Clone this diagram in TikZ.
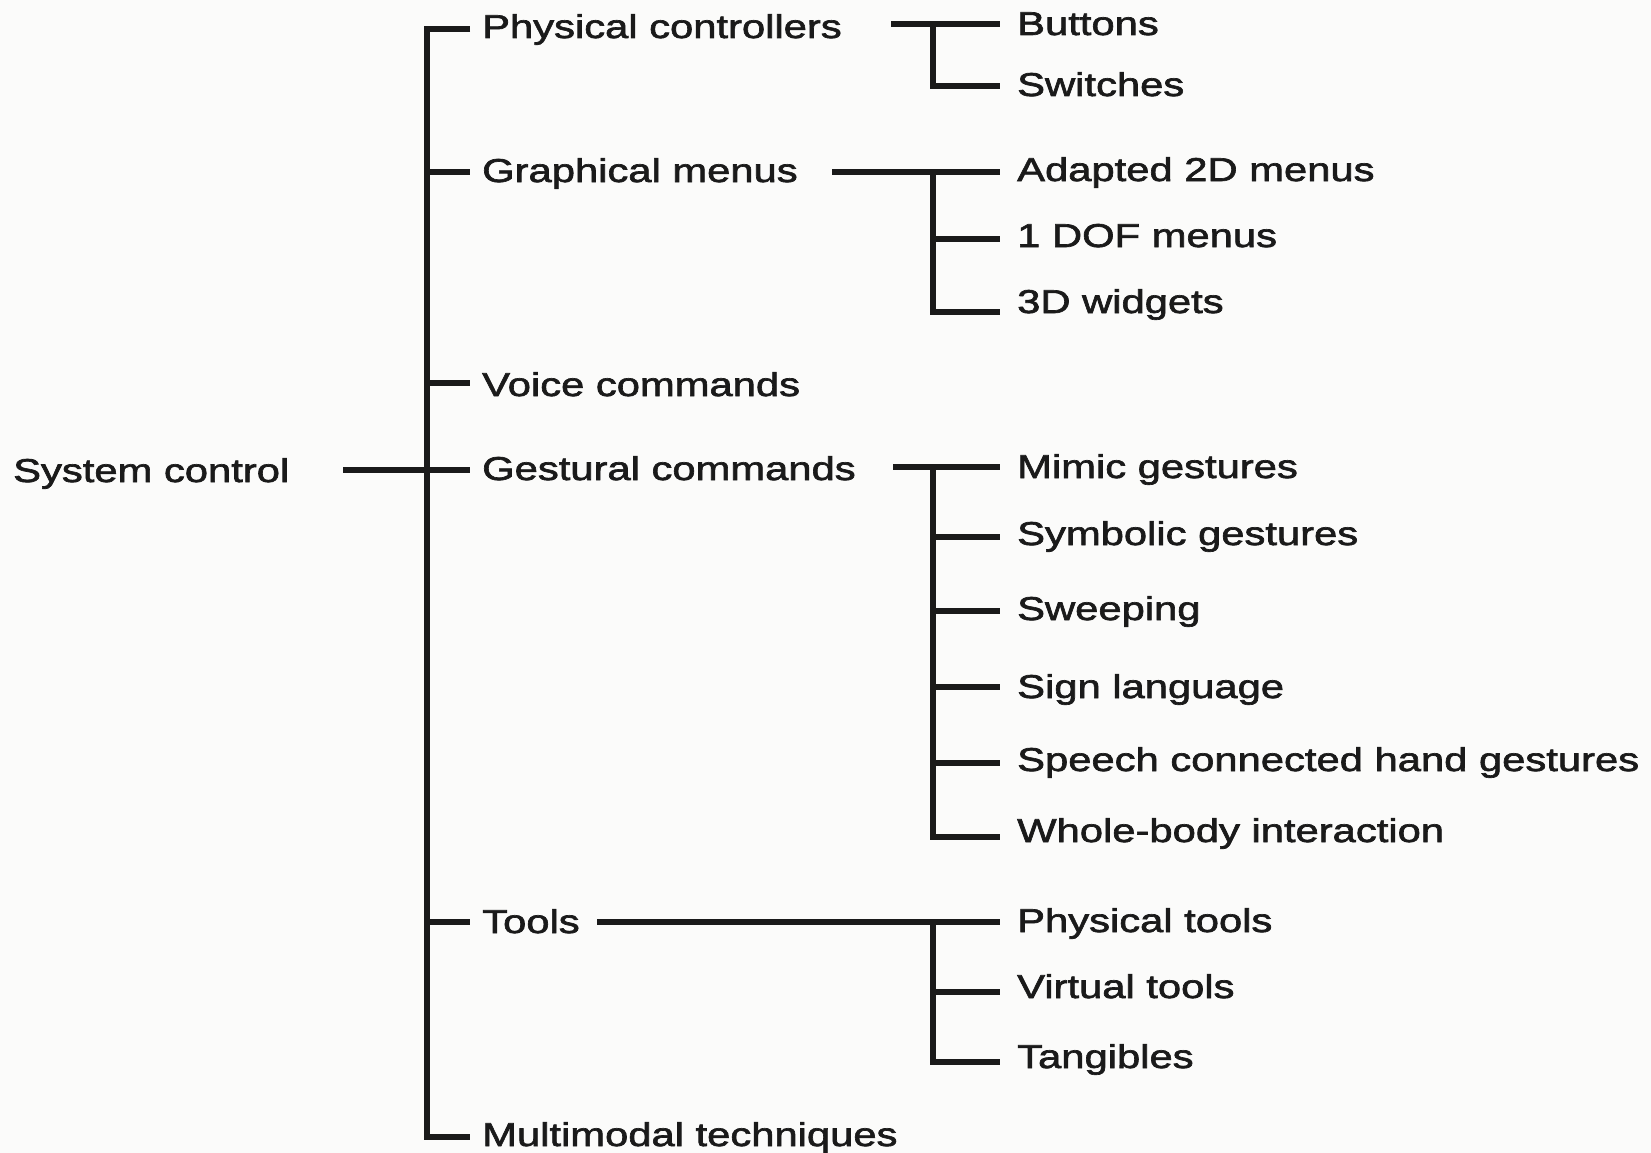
\documentclass[tikz,border=0pt]{standalone}
\usepackage{fontspec}
\setmainfont{Liberation Sans}[FakeStretch=1.265,FakeBold=2]
\definecolor{ink}{HTML}{1A1A1A}
\definecolor{paper}{HTML}{FBFBFA}
\begin{document}
\begin{tikzpicture}[x=1pt,y=1pt,
  ln/.style={line width=6pt, draw=ink, line join=miter, line cap=butt},
  lbl/.style={anchor=west, inner ysep=0pt, text height=22pt, text depth=0pt, text=ink,
    font=\fontsize{33}{39}\selectfont},
  top/.style={lbl, inner xsep=12pt},
  leaf/.style={lbl, inner xsep=17pt}]
\fill[paper] (0,0) rectangle (1651,-1153);
\useasboundingbox (0,0) rectangle (1651,-1153);

% root
\node[lbl, inner xsep=0pt] (sc) at (13,-470) {\raisebox{-1pt}{System control}};

% level 1
\node[top] (pc) at (470,-29)   {\raisebox{2pt}{Physical controllers}};
\node[top] (gm) at (470,-172)  {\raisebox{1pt}{Graphical menus}};
\node[top] (vc) at (470,-383)  {\raisebox{-2pt}{Voice commands}};
\node[top] (gc) at (470,-470)  {\raisebox{1pt}{Gestural commands}};
\node[top] (tl) at (470,-922)  {Tools};
\node[top] (mm) at (470,-1137) {\raisebox{2pt}{Multimodal techniques}};

% leaves
\node[leaf] (btn) at (1000,-24)   {Buttons};
\node[leaf] (sw)  at (1000,-86)   {\raisebox{1pt}{Switches}};
\node[leaf] (a2d) at (1000,-172)  {\raisebox{2pt}{Adapted 2D menus}};
\node[leaf] (dof) at (1000,-239)  {\raisebox{3pt}{1 DOF menus}};
\node[leaf] (w3d) at (1000,-312)  {\raisebox{10pt}{3D widgets}};
\node[leaf] (mim) at (1000,-467)  {Mimic gestures};
\node[leaf] (sym) at (1000,-537)  {\raisebox{3pt}{Symbolic gestures}};
\node[leaf] (swp) at (1000,-611)  {\raisebox{2pt}{Sweeping}};
\node[leaf] (sgn) at (1000,-687)  {Sign language};
\node[leaf] (spc) at (1000,-763)  {\raisebox{3pt}{Speech connected hand gestures}};
\node[leaf] (wb)  at (1000,-837)  {\raisebox{6pt}{Whole-body interaction}};
\node[leaf] (pt)  at (1000,-922)  {\raisebox{1pt}{Physical tools}};
\node[leaf] (vt)  at (1000,-992)  {\raisebox{5pt}{Virtual tools}};
\node[leaf] (tg)  at (1000,-1062) {\raisebox{5pt}{Tangibles}};

% helper coordinates
\coordinate (tr)  at (427,0);
\coordinate (jx)  at (933,0);
\coordinate (scR) at (343,-470);
\coordinate (pcR) at (891,-24);
\coordinate (gmR) at (832,-172);
\coordinate (gcR) at (893,-467);
\coordinate (tlR) at (597,-922);

% trunk
\draw[ln] (pc.west) -| (tr |- mm.west) -- (mm.west);
\foreach \n in {gm,vc,gc,tl} \draw[ln] (tr |- \n.west) -- (\n.west);
\draw[ln] (scR) -- (tr |- scR);

% physical controllers
\draw[ln] (pcR) -- (btn.west);
\draw[ln] (jx |- btn.west) |- (sw.west);
% graphical menus
\draw[ln] (gmR) -- (a2d.west);
\draw[ln] (jx |- a2d.west) |- (w3d.west);
\draw[ln] (jx |- dof.west) -- (dof.west);
% gestural commands
\draw[ln] (gcR) -- (mim.west);
\draw[ln] (jx |- mim.west) |- (wb.west);
\foreach \n in {sym,swp,sgn,spc} \draw[ln] (jx |- \n.west) -- (\n.west);
% tools
\draw[ln] (tlR) -- (pt.west);
\draw[ln] (jx |- pt.west) |- (tg.west);
\draw[ln] (jx |- vt.west) -- (vt.west);
\end{tikzpicture}
\end{document}
